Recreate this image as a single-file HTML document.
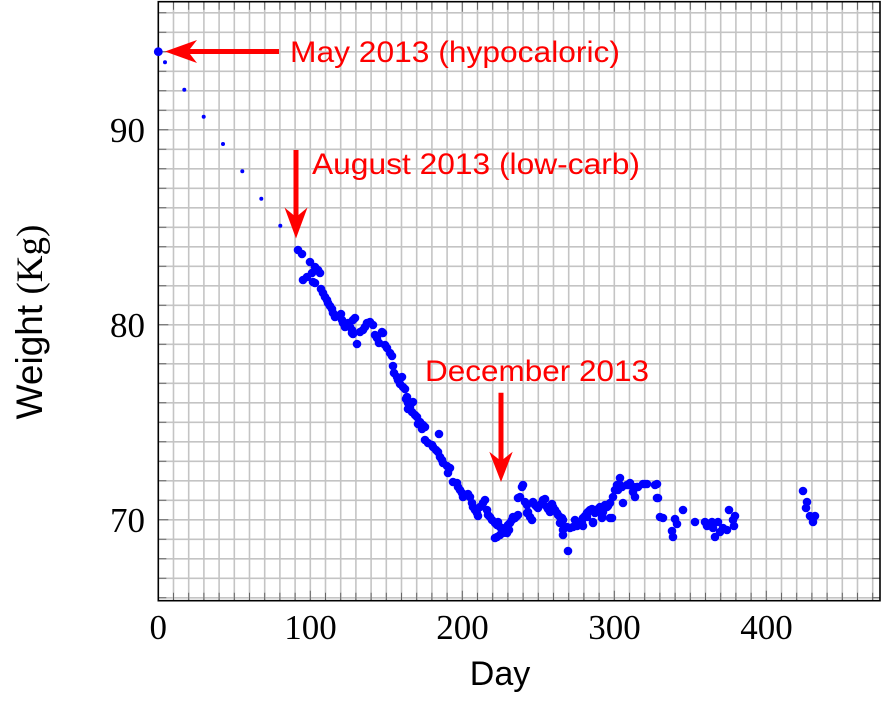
<!DOCTYPE html>
<html><head><meta charset="utf-8"><style>
html,body{margin:0;padding:0;background:#fff;}
svg{display:block;}
</style></head><body>
<svg width="882" height="719" viewBox="0 0 882 719" xmlns="http://www.w3.org/2000/svg">
<rect x="0" y="0" width="882" height="719" fill="#fff"/>
<g stroke="#c4c4c4" stroke-width="1.6">
<line x1="173.5" y1="2" x2="173.5" y2="600.7"/><line x1="188.7" y1="2" x2="188.7" y2="600.7"/><line x1="203.9" y1="2" x2="203.9" y2="600.7"/><line x1="219.1" y1="2" x2="219.1" y2="600.7"/><line x1="234.3" y1="2" x2="234.3" y2="600.7"/><line x1="249.5" y1="2" x2="249.5" y2="600.7"/><line x1="264.7" y1="2" x2="264.7" y2="600.7"/><line x1="279.9" y1="2" x2="279.9" y2="600.7"/><line x1="295.1" y1="2" x2="295.1" y2="600.7"/><line x1="310.3" y1="2" x2="310.3" y2="600.7"/>
<line x1="325.5" y1="2" x2="325.5" y2="600.7"/><line x1="340.7" y1="2" x2="340.7" y2="600.7"/><line x1="355.9" y1="2" x2="355.9" y2="600.7"/><line x1="371.1" y1="2" x2="371.1" y2="600.7"/><line x1="386.3" y1="2" x2="386.3" y2="600.7"/><line x1="401.5" y1="2" x2="401.5" y2="600.7"/><line x1="416.7" y1="2" x2="416.7" y2="600.7"/><line x1="431.9" y1="2" x2="431.9" y2="600.7"/><line x1="447.1" y1="2" x2="447.1" y2="600.7"/><line x1="462.3" y1="2" x2="462.3" y2="600.7"/>
<line x1="477.5" y1="2" x2="477.5" y2="600.7"/><line x1="492.7" y1="2" x2="492.7" y2="600.7"/><line x1="507.9" y1="2" x2="507.9" y2="600.7"/><line x1="523.1" y1="2" x2="523.1" y2="600.7"/><line x1="538.3" y1="2" x2="538.3" y2="600.7"/><line x1="553.5" y1="2" x2="553.5" y2="600.7"/><line x1="568.7" y1="2" x2="568.7" y2="600.7"/><line x1="583.9" y1="2" x2="583.9" y2="600.7"/><line x1="599.1" y1="2" x2="599.1" y2="600.7"/><line x1="614.3" y1="2" x2="614.3" y2="600.7"/>
<line x1="629.5" y1="2" x2="629.5" y2="600.7"/><line x1="644.7" y1="2" x2="644.7" y2="600.7"/><line x1="659.9" y1="2" x2="659.9" y2="600.7"/><line x1="675.1" y1="2" x2="675.1" y2="600.7"/><line x1="690.3" y1="2" x2="690.3" y2="600.7"/><line x1="705.5" y1="2" x2="705.5" y2="600.7"/><line x1="720.7" y1="2" x2="720.7" y2="600.7"/><line x1="735.9" y1="2" x2="735.9" y2="600.7"/><line x1="751.1" y1="2" x2="751.1" y2="600.7"/><line x1="766.3" y1="2" x2="766.3" y2="600.7"/>
<line x1="781.5" y1="2" x2="781.5" y2="600.7"/><line x1="796.7" y1="2" x2="796.7" y2="600.7"/><line x1="811.9" y1="2" x2="811.9" y2="600.7"/><line x1="827.1" y1="2" x2="827.1" y2="600.7"/><line x1="842.3" y1="2" x2="842.3" y2="600.7"/><line x1="857.5" y1="2" x2="857.5" y2="600.7"/><line x1="872.7" y1="2" x2="872.7" y2="600.7"/>
<line x1="158.3" y1="597.8" x2="880" y2="597.8"/><line x1="158.3" y1="578.3" x2="880" y2="578.3"/><line x1="158.3" y1="558.8" x2="880" y2="558.8"/><line x1="158.3" y1="539.3" x2="880" y2="539.3"/><line x1="158.3" y1="519.8" x2="880" y2="519.8"/><line x1="158.3" y1="500.3" x2="880" y2="500.3"/><line x1="158.3" y1="480.8" x2="880" y2="480.8"/><line x1="158.3" y1="461.3" x2="880" y2="461.3"/><line x1="158.3" y1="441.8" x2="880" y2="441.8"/><line x1="158.3" y1="422.3" x2="880" y2="422.3"/>
<line x1="158.3" y1="402.8" x2="880" y2="402.8"/><line x1="158.3" y1="383.3" x2="880" y2="383.3"/><line x1="158.3" y1="363.8" x2="880" y2="363.8"/><line x1="158.3" y1="344.3" x2="880" y2="344.3"/><line x1="158.3" y1="324.8" x2="880" y2="324.8"/><line x1="158.3" y1="305.3" x2="880" y2="305.3"/><line x1="158.3" y1="285.8" x2="880" y2="285.8"/><line x1="158.3" y1="266.3" x2="880" y2="266.3"/><line x1="158.3" y1="246.8" x2="880" y2="246.8"/><line x1="158.3" y1="227.3" x2="880" y2="227.3"/>
<line x1="158.3" y1="207.8" x2="880" y2="207.8"/><line x1="158.3" y1="188.3" x2="880" y2="188.3"/><line x1="158.3" y1="168.8" x2="880" y2="168.8"/><line x1="158.3" y1="149.3" x2="880" y2="149.3"/><line x1="158.3" y1="129.8" x2="880" y2="129.8"/><line x1="158.3" y1="110.3" x2="880" y2="110.3"/><line x1="158.3" y1="90.8" x2="880" y2="90.8"/><line x1="158.3" y1="71.3" x2="880" y2="71.3"/><line x1="158.3" y1="51.8" x2="880" y2="51.8"/><line x1="158.3" y1="32.3" x2="880" y2="32.3"/><line x1="158.3" y1="12.8" x2="880" y2="12.8"/>
</g>
<!-- ticks -->
<g stroke="#666" stroke-width="1">
<path d="M173.5 600.7v-8M188.7 600.7v-8M203.9 600.7v-8M219.1 600.7v-8M234.3 600.7v-8M249.5 600.7v-8M264.7 600.7v-8M279.9 600.7v-8M295.1 600.7v-8M310.3 600.7v-10M325.5 600.7v-8M340.7 600.7v-8M355.9 600.7v-8M371.1 600.7v-8M386.3 600.7v-8M401.5 600.7v-8M416.7 600.7v-8M431.9 600.7v-8M447.1 600.7v-8M462.3 600.7v-10M477.5 600.7v-8M492.7 600.7v-8M507.9 600.7v-8M523.1 600.7v-8M538.3 600.7v-8M553.5 600.7v-8M568.7 600.7v-8M583.9 600.7v-8M599.1 600.7v-8M614.3 600.7v-10M629.5 600.7v-8M644.7 600.7v-8M659.9 600.7v-8M675.1 600.7v-8M690.3 600.7v-8M705.5 600.7v-8M720.7 600.7v-8M735.9 600.7v-8M751.1 600.7v-8M766.3 600.7v-10M781.5 600.7v-8M796.7 600.7v-8M811.9 600.7v-8M827.1 600.7v-8M842.3 600.7v-8M857.5 600.7v-8M872.7 600.7v-8"/>
<path d="M158.3 597.8h8M158.3 578.3h8M158.3 558.8h8M158.3 539.3h8M158.3 519.8h10M158.3 500.3h8M158.3 480.8h8M158.3 461.3h8M158.3 441.8h8M158.3 422.3h8M158.3 402.8h8M158.3 383.3h8M158.3 363.8h8M158.3 344.3h8M158.3 324.8h10M158.3 305.3h8M158.3 285.8h8M158.3 266.3h8M158.3 246.8h8M158.3 227.3h8M158.3 207.8h8M158.3 188.3h8M158.3 168.8h8M158.3 149.3h8M158.3 129.8h10M158.3 110.3h8M158.3 90.8h8M158.3 71.3h8M158.3 51.8h8M158.3 32.3h8M158.3 12.8h8"/>
<path d="M880 597.8h-8M880 578.3h-8M880 558.8h-8M880 539.3h-8M880 519.8h-10M880 500.3h-8M880 480.8h-8M880 461.3h-8M880 441.8h-8M880 422.3h-8M880 402.8h-8M880 383.3h-8M880 363.8h-8M880 344.3h-8M880 324.8h-10M880 305.3h-8M880 285.8h-8M880 266.3h-8M880 246.8h-8M880 227.3h-8M880 207.8h-8M880 188.3h-8M880 168.8h-8M880 149.3h-8M880 129.8h-10M880 110.3h-8M880 90.8h-8M880 71.3h-8M880 51.8h-8M880 32.3h-8M880 12.8h-8"/>
<path d="M173.5 1.7v8M188.7 1.7v8M203.9 1.7v8M219.1 1.7v8M234.3 1.7v8M249.5 1.7v8M264.7 1.7v8M279.9 1.7v8M295.1 1.7v8M310.3 1.7v10M325.5 1.7v8M340.7 1.7v8M355.9 1.7v8M371.1 1.7v8M386.3 1.7v8M401.5 1.7v8M416.7 1.7v8M431.9 1.7v8M447.1 1.7v8M462.3 1.7v10M477.5 1.7v8M492.7 1.7v8M507.9 1.7v8M523.1 1.7v8M538.3 1.7v8M553.5 1.7v8M568.7 1.7v8M583.9 1.7v8M599.1 1.7v8M614.3 1.7v10M629.5 1.7v8M644.7 1.7v8M659.9 1.7v8M675.1 1.7v8M690.3 1.7v8M705.5 1.7v8M720.7 1.7v8M735.9 1.7v8M751.1 1.7v8M766.3 1.7v10M781.5 1.7v8M796.7 1.7v8M811.9 1.7v8M827.1 1.7v8M842.3 1.7v8M857.5 1.7v8M872.7 1.7v8"/>
</g>
<rect x="158.3" y="1.7" width="721.7" height="599" fill="none" stroke="#000" stroke-width="1.6"/>

<!-- small early dots -->
<g fill="#0000ff">
<circle cx="158.3" cy="51.7" r="4.4"/>
<circle cx="165" cy="62.3" r="2"/><circle cx="184.3" cy="89.7" r="2"/><circle cx="203.7" cy="116.7" r="2"/><circle cx="223" cy="144" r="2"/><circle cx="242.3" cy="171.3" r="2"/><circle cx="261.3" cy="198.7" r="2"/><circle cx="280.3" cy="225.7" r="2"/>
</g>
<!-- main data -->
<g fill="#0000ff">
<circle cx="298" cy="250" r="4.3"/><circle cx="302" cy="254" r="4.3"/><circle cx="310" cy="262" r="4.3"/><circle cx="315" cy="267" r="4.3"/><circle cx="318" cy="270" r="4.3"/><circle cx="320" cy="273" r="4.3"/><circle cx="303" cy="280" r="4.3"/><circle cx="307" cy="277" r="4.3"/><circle cx="312" cy="273" r="4.3"/><circle cx="313" cy="282" r="4.3"/><circle cx="315" cy="283" r="4.3"/><circle cx="321" cy="289" r="4.3"/><circle cx="323" cy="293" r="4.3"/><circle cx="325" cy="297" r="4.3"/><circle cx="327" cy="300" r="4.3"/><circle cx="328" cy="303" r="4.3"/><circle cx="330" cy="306" r="4.3"/><circle cx="332" cy="309" r="4.3"/><circle cx="333" cy="313" r="4.3"/><circle cx="335" cy="317" r="4.3"/><circle cx="338" cy="316" r="4.3"/><circle cx="341" cy="314" r="4.3"/><circle cx="342" cy="320" r="4.3"/><circle cx="343" cy="323" r="4.3"/><circle cx="345" cy="327" r="4.3"/><circle cx="348" cy="323" r="4.3"/><circle cx="350" cy="327" r="4.3"/><circle cx="352" cy="330" r="4.3"/><circle cx="353" cy="320" r="4.3"/><circle cx="355" cy="318" r="4.3"/><circle cx="352" cy="333" r="4.3"/><circle cx="353" cy="334" r="4.3"/><circle cx="357" cy="344" r="4.3"/><circle cx="360" cy="332" r="4.3"/><circle cx="363" cy="330" r="4.3"/><circle cx="365" cy="327" r="4.3"/><circle cx="367" cy="323" r="4.3"/><circle cx="370" cy="322" r="4.3"/><circle cx="373" cy="325" r="4.3"/><circle cx="375" cy="335" r="4.3"/><circle cx="377" cy="338" r="4.3"/><circle cx="379" cy="343" r="4.3"/><circle cx="382" cy="332" r="4.3"/><circle cx="383" cy="333" r="4.3"/><circle cx="385" cy="345" r="4.3"/><circle cx="387" cy="348" r="4.3"/><circle cx="390" cy="353" r="4.3"/><circle cx="392" cy="356" r="4.3"/><circle cx="393" cy="366" r="4.3"/><circle cx="394" cy="373" r="4.3"/><circle cx="397" cy="377" r="4.3"/><circle cx="398" cy="380" r="4.3"/><circle cx="400" cy="384" r="4.3"/><circle cx="403" cy="387" r="4.3"/><circle cx="405" cy="389" r="4.3"/><circle cx="407" cy="397" r="4.3"/><circle cx="413" cy="402" r="4.3"/><circle cx="408" cy="403" r="4.3"/><circle cx="410" cy="407" r="4.3"/><circle cx="412" cy="412" r="4.3"/><circle cx="415" cy="415" r="4.3"/><circle cx="417" cy="417" r="4.3"/><circle cx="420" cy="422" r="4.3"/><circle cx="423" cy="425" r="4.3"/><circle cx="425" cy="427" r="4.3"/>
<circle cx="402" cy="377" r="4.3"/><circle cx="406" cy="399" r="4.3"/><circle cx="409" cy="402" r="4.3"/><circle cx="408" cy="409" r="4.3"/><circle cx="418" cy="424" r="4.3"/><circle cx="422" cy="429" r="4.3"/><circle cx="439" cy="434" r="4.3"/><circle cx="425" cy="440" r="4.3"/><circle cx="428" cy="443" r="4.3"/><circle cx="432" cy="445" r="4.3"/><circle cx="433" cy="447" r="4.3"/><circle cx="436" cy="450" r="4.3"/><circle cx="438" cy="452" r="4.3"/><circle cx="440" cy="457" r="4.3"/><circle cx="442" cy="460" r="4.3"/><circle cx="443" cy="463" r="4.3"/><circle cx="447" cy="466" r="4.3"/><circle cx="450" cy="468" r="4.3"/><circle cx="448" cy="473" r="4.3"/><circle cx="453" cy="482" r="4.3"/><circle cx="457" cy="483" r="4.3"/><circle cx="458" cy="487" r="4.3"/><circle cx="460" cy="490" r="4.3"/><circle cx="462" cy="493" r="4.3"/><circle cx="463" cy="497" r="4.3"/><circle cx="468" cy="494" r="4.3"/><circle cx="470" cy="497" r="4.3"/><circle cx="472" cy="503" r="4.3"/><circle cx="473" cy="507" r="4.3"/><circle cx="475" cy="510" r="4.3"/><circle cx="477" cy="513" r="4.3"/><circle cx="478" cy="516" r="4.3"/><circle cx="480" cy="507" r="4.3"/><circle cx="483" cy="503" r="4.3"/><circle cx="485" cy="500" r="4.3"/><circle cx="487" cy="510" r="4.3"/><circle cx="488" cy="515" r="4.3"/><circle cx="490" cy="517" r="4.3"/><circle cx="492" cy="520" r="4.3"/><circle cx="495" cy="523" r="4.3"/><circle cx="497" cy="525" r="4.3"/><circle cx="498" cy="522" r="4.3"/><circle cx="500" cy="527" r="4.3"/><circle cx="502" cy="530" r="4.3"/><circle cx="503" cy="532" r="4.3"/><circle cx="505" cy="528" r="4.3"/><circle cx="507" cy="527" r="4.3"/><circle cx="508" cy="525" r="4.3"/><circle cx="510" cy="523" r="4.3"/><circle cx="512" cy="520" r="4.3"/><circle cx="513" cy="517" r="4.3"/><circle cx="515" cy="518" r="4.3"/><circle cx="517" cy="516" r="4.3"/><circle cx="518" cy="515" r="4.3"/><circle cx="495" cy="538" r="4.3"/><circle cx="497" cy="537" r="4.3"/><circle cx="500" cy="535" r="4.3"/><circle cx="503" cy="533" r="4.3"/><circle cx="507" cy="533" r="4.3"/><circle cx="509" cy="530" r="4.3"/>
<circle cx="522" cy="487" r="4.3"/><circle cx="523" cy="485" r="4.3"/><circle cx="520" cy="497" r="4.3"/><circle cx="518" cy="498" r="4.3"/><circle cx="525" cy="502" r="4.3"/><circle cx="527" cy="505" r="4.3"/><circle cx="527" cy="513" r="4.3"/><circle cx="528" cy="512" r="4.3"/><circle cx="530" cy="517" r="4.3"/><circle cx="532" cy="520" r="4.3"/><circle cx="533" cy="502" r="4.3"/><circle cx="535" cy="505" r="4.3"/><circle cx="537" cy="507" r="4.3"/><circle cx="538" cy="508" r="4.3"/><circle cx="540" cy="505" r="4.3"/><circle cx="542" cy="503" r="4.3"/><circle cx="543" cy="500" r="4.3"/><circle cx="545" cy="499" r="4.3"/><circle cx="547" cy="507" r="4.3"/><circle cx="548" cy="509" r="4.3"/><circle cx="550" cy="512" r="4.3"/><circle cx="552" cy="504" r="4.3"/><circle cx="553" cy="507" r="4.3"/><circle cx="555" cy="510" r="4.3"/><circle cx="557" cy="513" r="4.3"/><circle cx="558" cy="515" r="4.3"/><circle cx="560" cy="517" r="4.3"/><circle cx="562" cy="518" r="4.3"/><circle cx="563" cy="530" r="4.3"/><circle cx="563" cy="535" r="4.3"/><circle cx="560" cy="523" r="4.3"/><circle cx="563" cy="520" r="4.3"/><circle cx="568" cy="551" r="4.3"/><circle cx="567" cy="527" r="4.3"/><circle cx="570" cy="528" r="4.3"/><circle cx="573" cy="527" r="4.3"/><circle cx="575" cy="520" r="4.3"/><circle cx="577" cy="526" r="4.3"/><circle cx="580" cy="525" r="4.3"/><circle cx="582" cy="523" r="4.3"/><circle cx="583" cy="518" r="4.3"/><circle cx="585" cy="516" r="4.3"/><circle cx="587" cy="513" r="4.3"/><circle cx="588" cy="512" r="4.3"/><circle cx="590" cy="510" r="4.3"/><circle cx="592" cy="509" r="4.3"/><circle cx="593" cy="523" r="4.3"/><circle cx="595" cy="513" r="4.3"/><circle cx="597" cy="511" r="4.3"/><circle cx="598" cy="509" r="4.3"/><circle cx="600" cy="507" r="4.3"/><circle cx="602" cy="515" r="4.3"/><circle cx="603" cy="508" r="4.3"/><circle cx="605" cy="505" r="4.3"/><circle cx="607" cy="507" r="4.3"/><circle cx="608" cy="506" r="4.3"/><circle cx="610" cy="503" r="4.3"/><circle cx="612" cy="518" r="4.3"/><circle cx="613" cy="497" r="4.3"/><circle cx="615" cy="490" r="4.3"/><circle cx="617" cy="485" r="4.3"/><circle cx="620" cy="478" r="4.3"/><circle cx="622" cy="487" r="4.3"/><circle cx="623" cy="503" r="4.3"/><circle cx="627" cy="485" r="4.3"/><circle cx="630" cy="483" r="4.3"/><circle cx="633" cy="487" r="4.3"/><circle cx="635" cy="497" r="4.3"/><circle cx="638" cy="487" r="4.3"/><circle cx="645" cy="484" r="4.3"/><circle cx="655" cy="485" r="4.3"/><circle cx="657" cy="498" r="4.3"/><circle cx="660" cy="517" r="4.3"/>
<circle cx="583" cy="526" r="4.3"/><circle cx="587" cy="517" r="4.3"/><circle cx="593" cy="510" r="4.3"/><circle cx="597" cy="510" r="4.3"/><circle cx="603" cy="512" r="4.3"/><circle cx="618" cy="490" r="4.3"/><circle cx="620" cy="485" r="4.3"/><circle cx="602" cy="518" r="4.3"/><circle cx="610" cy="518" r="4.3"/><circle cx="593" cy="522" r="4.3"/><circle cx="629" cy="485" r="4.3"/><circle cx="633" cy="492" r="4.3"/><circle cx="637" cy="487" r="4.3"/><circle cx="643" cy="484" r="4.3"/><circle cx="647" cy="484" r="4.3"/><circle cx="657" cy="484" r="4.3"/><circle cx="658" cy="498" r="4.3"/><circle cx="663" cy="518" r="4.3"/><circle cx="675" cy="519" r="4.3"/><circle cx="677" cy="524" r="4.3"/><circle cx="672" cy="531" r="4.3"/><circle cx="673" cy="537" r="4.3"/><circle cx="683" cy="510" r="4.3"/><circle cx="695" cy="522" r="4.3"/><circle cx="705" cy="522" r="4.3"/><circle cx="707" cy="526" r="4.3"/><circle cx="712" cy="522" r="4.3"/><circle cx="713" cy="528" r="4.3"/><circle cx="715" cy="537" r="4.3"/><circle cx="718" cy="522" r="4.3"/><circle cx="720" cy="532" r="4.3"/><circle cx="723" cy="528" r="4.3"/><circle cx="727" cy="530" r="4.3"/><circle cx="729" cy="510" r="4.3"/><circle cx="733" cy="520" r="4.3"/><circle cx="735" cy="516" r="4.3"/><circle cx="734" cy="526" r="4.3"/>
<circle cx="803" cy="491" r="4.3"/><circle cx="807" cy="502" r="4.3"/><circle cx="806" cy="508" r="4.3"/><circle cx="810" cy="516" r="4.3"/><circle cx="815" cy="516" r="4.3"/><circle cx="813" cy="522" r="4.3"/>
</g>

<!-- arrows -->
<g fill="#ff0000">
<polygon points="165,51.5 197,40 190,49 279,49 279,54 190,54 197,63"/>
<polygon points="296,238.5 284.5,207.5 293.5,215 293.5,150 298.5,150 298.5,215 307.5,207.5"/>
<polygon points="501,482 489.3,451.7 498.5,459 498.5,392.7 503.5,392.7 503.5,459 512.7,451.7"/>
</g>
<g fill="#ff0000" font-family="'Liberation Sans', sans-serif" font-size="30">
<text x="290" y="62" textLength="330" lengthAdjust="spacingAndGlyphs">May 2013 (hypocaloric)</text>
<text x="312" y="174" textLength="328" lengthAdjust="spacingAndGlyphs">August 2013 (low-carb)</text>
<text x="425" y="381" textLength="224" lengthAdjust="spacingAndGlyphs">December 2013</text>
</g>

<!-- tick labels -->
<g fill="#000" font-family="'Liberation Serif', serif" font-size="35" text-anchor="middle">
<text x="158.3" y="639">0</text>
<text x="310.5" y="639">100</text>
<text x="462.5" y="639">200</text>
<text x="614.5" y="639">300</text>
<text x="766.5" y="639">400</text>
</g>
<g fill="#000" font-family="'Liberation Serif', serif" font-size="35" text-anchor="end">
<text x="145" y="142">90</text>
<text x="145" y="337">80</text>
<text x="145" y="532">70</text>
</g>
<text x="500" y="685" font-family="'Liberation Sans', sans-serif" font-size="34" text-anchor="middle" fill="#000">Day</text>
<text transform="translate(42,322) rotate(-90)" text-anchor="middle" fill="#000" font-size="37"><tspan font-family="'Liberation Sans', sans-serif">Weight </tspan><tspan font-family="'Liberation Serif', serif">(Kg)</tspan></text>
</svg>
</body></html>
